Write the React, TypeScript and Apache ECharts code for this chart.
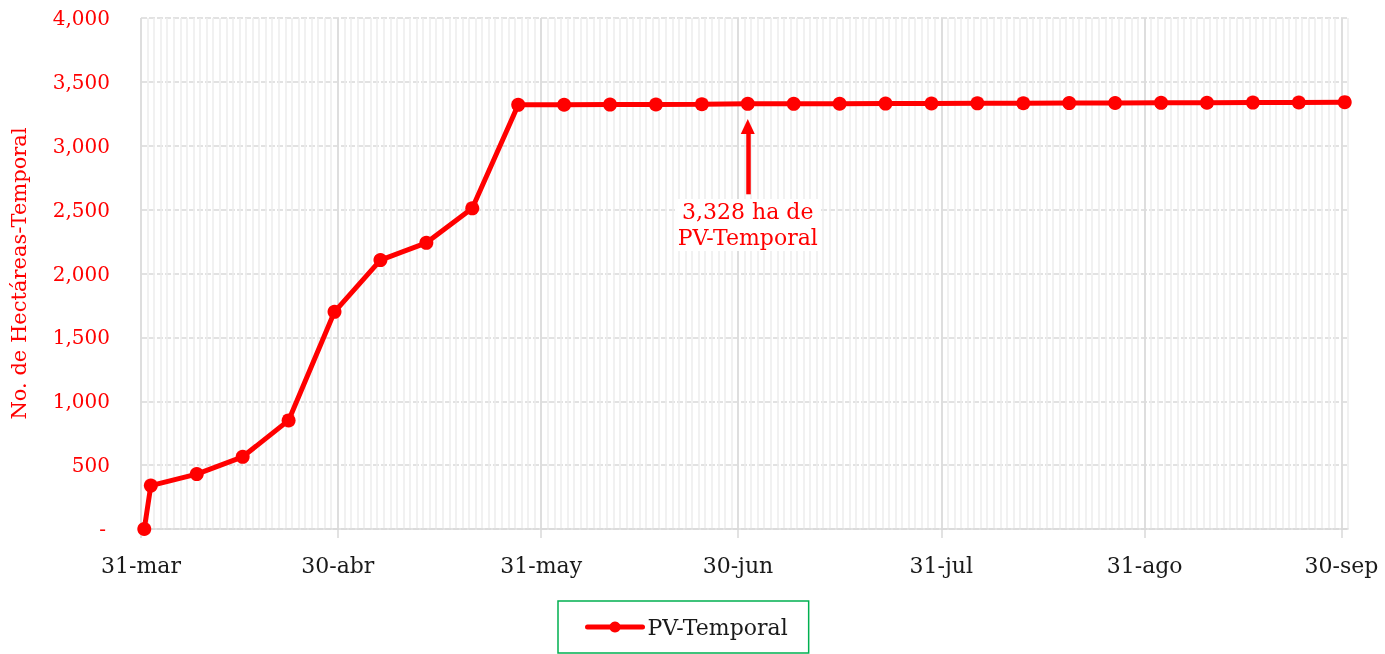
import React, { useEffect, useRef } from "react";
import * as echarts from "echarts";

const START_DATE = "2023-03-31";
const dates = [
  "2023-03-31", "2023-04-01", "2023-04-08", "2023-04-15", "2023-04-22", "2023-04-29",
  "2023-05-06", "2023-05-13", "2023-05-20", "2023-05-27", "2023-06-03", "2023-06-10",
  "2023-06-17", "2023-06-24", "2023-07-01", "2023-07-08", "2023-07-15", "2023-07-22",
  "2023-07-29", "2023-08-05", "2023-08-12", "2023-08-19", "2023-08-26", "2023-09-02",
  "2023-09-09", "2023-09-16", "2023-09-23", "2023-09-30",
];
const values = [
  0, 340, 430, 565, 850, 1700, 2105, 2240, 2510, 3320, 3321, 3322, 3323, 3325, 3328,
  3328, 3329, 3330, 3331, 3332, 3333, 3334, 3335, 3336, 3337, 3338, 3339, 3341,
];
const tickDates = ["2023-03-31", "2023-04-30", "2023-05-31", "2023-06-30", "2023-07-31", "2023-08-31", "2023-09-30"];
const tickLabels = ["31-mar", "30-abr", "31-may", "30-jun", "31-jul", "31-ago", "30-sep"];
const annotationDate = "2023-07-01";
const annotationValue = 3328;
const seriesName = "PV-Temporal";
const yAxisName = "No. de Hectáreas-Temporal";

const dayOffset = (d: string) =>
  Math.round((Date.parse(d + "T00:00:00Z") - Date.parse(START_DATE + "T00:00:00Z")) / 86400000);

const FONT = "DejaVu Serif";
const RED = "#ff0000";

export default function App() {
  const ref = useRef<HTMLDivElement>(null);
  useEffect(() => {
    if (!ref.current) return;
    const chart = echarts.init(ref.current, null, { renderer: "svg" });
    const tickVals = tickDates.map(dayOffset);
    const labelMap: Record<number, string> = {};
    tickVals.forEach((v, i) => (labelMap[v] = tickLabels[i]));
    const data = dates.map((d, i) => [dayOffset(d) + 0.5, values[i]]);
    const annX = dayOffset(annotationDate) + 0.5;
    const xMax = dayOffset(tickDates[tickDates.length - 1]) + 1;

    chart.setOption({
      animation: false,
      textStyle: { fontFamily: FONT },
      grid: { left: 141, right: 37, top: 18, bottom: 125, containLabel: false },
      legend: {
        left: 558,
        top: 601,
        padding: [15, 21, 15, 27],
        borderColor: "#00b050",
        borderWidth: 1.5,
        itemWidth: 55,
        itemHeight: 14,
        itemGap: 6,
        lineStyle: { width: 5, cap: "round" },
        textStyle: { fontFamily: FONT, fontSize: 22, color: "#1a1a1a" },
        data: [seriesName],
      },
      xAxis: [
        {
          type: "value",
          min: 0,
          max: xMax,
          interval: 1,
          axisLabel: { show: false },
          axisTick: { show: false },
          axisLine: { show: false },
          splitLine: { show: true, lineStyle: { color: "#ededed", width: 1.5 } },
        },
        {
          type: "value",
          min: 0,
          max: xMax,
          position: "bottom",
          axisLine: { show: true, lineStyle: { color: "#d9d9d9", width: 1.5 } },
          axisTick: { show: true, customValues: tickVals, length: 9, lineStyle: { color: "#d9d9d9", width: 1.5 } },
          axisLabel: {
            customValues: tickVals,
            formatter: (v: number) => labelMap[Math.round(v)] ?? "",
            fontFamily: FONT,
            fontSize: 22,
            color: "#1a1a1a",
            margin: 25,
          },
          splitLine: { show: true, lineStyle: { color: "#d9d9d9", width: 1.5 } },
        },
      ],
      yAxis: {
        type: "value",
        min: 0,
        max: 4000,
        interval: 500,
        name: yAxisName,
        nameLocation: "middle",
        nameGap: 112,
        nameTextStyle: { fontFamily: FONT, fontSize: 21, color: RED },
        axisLine: { show: false },
        axisTick: { show: false },
        axisLabel: {
          fontFamily: FONT,
          fontSize: 20,
          color: RED,
          margin: 31,
          formatter: (v: number) => (v === 0 ? "-\u2009" : v.toLocaleString("en-US")),
        },
        splitLine: { show: true, lineStyle: { color: "#d9d9d9", width: 1.5, type: [6, 2] } },
      },
      series: [
        {
          name: seriesName,
          type: "line",
          xAxisIndex: 0,
          data,
          symbol: "circle",
          symbolSize: 14,
          itemStyle: { color: RED },
          lineStyle: { color: RED, width: 5 },
          z: 5,
          markLine: {
            silent: true,
            symbol: ["none", "triangle"],
            symbolSize: [14, 15],
            itemStyle: { color: RED },
            lineStyle: { color: RED, width: 4.5, type: "solid" },
            label: { show: false },
            data: [[{ coord: [annX, 2620] }, { coord: [annX, 3150] }]],
          },
          markPoint: {
            silent: true,
            symbol: "circle",
            symbolSize: 0,
            data: [{ coord: [annX, 2380], value: annotationValue }],
            label: {
              show: true,
              position: "inside",
              fontFamily: FONT,
              fontSize: 22,
              lineHeight: 26,
              color: RED,
              align: "center",
              backgroundColor: "#ffffff",
              padding: [0, 2],
              formatter: () => `${annotationValue.toLocaleString("en-US")} ha de\n${seriesName}`,
            },
          },
        },
      ],
    });
    return () => chart.dispose();
  }, []);
  return <div ref={ref} style={{ position: "fixed", left: 0, top: 0, width: 1385, height: 654 }} />;
}
